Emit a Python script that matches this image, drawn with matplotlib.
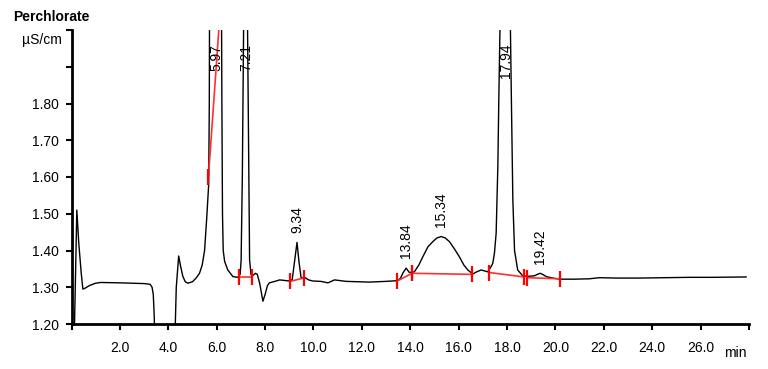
import matplotlib.pyplot as plt

plt.rcParams['font.family'] = ['Liberation Sans', 'DejaVu Sans']

# chromatogram trace (time in min, signal in uS/cm)
time_min = [0.00, 0.11, 0.22, 0.30, 0.40, 0.47, 0.55, 0.75, 1.00, 1.20, 2.00, 3.00,
            3.25, 3.33, 3.38, 3.42, 3.46, 3.50, 4.20, 4.27, 4.33, 4.43, 4.50, 4.60,
            4.70, 4.81, 5.00, 5.15, 5.29, 5.40, 5.50, 5.59, 5.67, 5.695, 5.705, 5.97,
            6.20, 6.215, 6.24, 6.27, 6.33, 6.46, 6.67, 6.87, 6.97, 7.01, 7.06, 7.12,
            7.21, 7.27, 7.33, 7.36, 7.42, 7.52, 7.60, 7.68, 7.78, 7.91, 8.00, 8.10,
            8.18, 8.46, 8.60, 9.00, 9.12, 9.22, 9.32, 9.40, 9.49, 9.63, 9.80, 9.97,
            10.30, 10.60, 10.87, 11.10, 11.35, 12.30, 13.00, 13.49, 13.60, 13.69, 13.83, 13.95,
            14.05, 14.17, 14.35, 14.52, 14.73, 14.93, 15.10, 15.28, 15.45, 15.62, 15.82, 16.03,
            16.22, 16.38, 16.58, 16.75, 16.93, 17.10, 17.20, 17.34, 17.41, 17.48, 17.55, 17.62,
            17.66, 17.72, 17.94, 18.13, 18.18, 18.24, 18.31, 18.44, 18.65, 18.90, 19.13, 19.25,
            19.37, 19.50, 19.62, 19.89, 20.17, 20.80, 21.40, 21.82, 22.50, 23.47, 24.50, 25.54,
            26.50, 27.88]
signal = [0.90, 1.15, 1.51, 1.42, 1.34, 1.295, 1.297, 1.305, 1.311, 1.313, 1.312, 1.310,
          1.308, 1.300, 1.280, 1.220, 1.100, 0.90, 0.90, 1.15, 1.30, 1.385, 1.360, 1.330,
          1.315, 1.311, 1.315, 1.325, 1.338, 1.360, 1.400, 1.490, 1.580, 1.80, 2.05, 2.90,
          2.05, 1.80, 1.50, 1.40, 1.370, 1.347, 1.329, 1.327, 1.335, 1.374, 1.60, 2.05,
          3.00, 2.05, 1.60, 1.374, 1.334, 1.333, 1.338, 1.335, 1.310, 1.262, 1.280, 1.305,
          1.312, 1.317, 1.320, 1.317, 1.320, 1.370, 1.422, 1.370, 1.325, 1.327, 1.320, 1.317,
          1.316, 1.312, 1.320, 1.318, 1.316, 1.314, 1.316, 1.318, 1.325, 1.338, 1.352, 1.341,
          1.340, 1.342, 1.360, 1.383, 1.410, 1.424, 1.434, 1.438, 1.434, 1.424, 1.405, 1.383,
          1.360, 1.347, 1.336, 1.342, 1.347, 1.344, 1.342, 1.356, 1.365, 1.393, 1.447, 1.629,
          1.810, 2.05, 3.00, 2.05, 1.810, 1.538, 1.400, 1.347, 1.331, 1.330, 1.331, 1.335,
          1.338, 1.334, 1.329, 1.325, 1.322, 1.322, 1.323, 1.326, 1.325, 1.325, 1.326, 1.327,
          1.327, 1.328]

# integration baselines: start/end time and signal
base_t0 = [5.66, 6.94, 9.04, 13.46, 14.08, 17.27, 18.83]
base_v0 = [1.600, 1.327, 1.316, 1.317, 1.338, 1.340, 1.326]
base_t1 = [6.12, 7.47, 9.59, 14.08, 16.56, 18.72, 20.17]
base_v1 = [2.030, 1.327, 1.325, 1.338, 1.335, 1.328, 1.323]

# peak labels (retention time) and apex height
peak_rt = [5.97, 7.21, 9.34, 13.84, 15.34, 17.94, 19.42]
peak_x = [5.97, 7.21, 9.32, 13.83, 15.28, 17.94, 19.37]
peak_h = [2.90, 3.00, 1.422, 1.352, 1.438, 3.00, 1.338]

x_ticks = [0, 2, 4, 6, 8, 10, 12, 14, 16, 18, 20, 22, 24, 26, 28]
y_ticks = [1.2, 1.3, 1.4, 1.5, 1.6, 1.7, 1.8, 1.9, 2.0]

fig = plt.figure(figsize=(7.68, 3.69), dpi=100)
ax = fig.add_axes([71.5 / 768, 45 / 369, 677.5 / 768, 294 / 369])

ax.plot(time_min, signal, color='black', lw=1.0)

for t0, v0, t1, v1 in zip(base_t0, base_v0, base_t1, base_v1):
    ax.plot([t0, t1], [v0, v1], color='#ff3030', lw=1.2)
    ax.plot([t0, t1], [v0, v1], ls='none', marker='|', markersize=12,
            markeredgewidth=1.6, color='red')

for rt, px, h in zip(peak_rt, peak_x, peak_h):
    if h > 2.0:
        ax.text(px, 1.962, f'{rt:.2f}', rotation=90, ha='center', va='top', fontsize=10)
    else:
        ax.annotate(f'{rt:.2f}', (px, h), xytext=(0, 7), textcoords='offset points',
                    rotation=90, ha='center', va='bottom', fontsize=10)

ax.set_xlim(0, 28)
ax.set_ylim(1.2, 2.0)
ax.set_xticks(x_ticks)
ax.set_xticklabels([f'{t:.1f}' if 0 < t < 28 else '' for t in x_ticks])
ax.set_yticks(y_ticks)
ax.set_yticklabels([f'{v:.2f}' if v < 1.85 else '' for v in y_ticks])
ax.tick_params(axis='x', length=4.5, width=1.5, pad=7.5, labelsize=10)
ax.tick_params(axis='y', length=4.5, width=1.5, pad=4.5, labelsize=10)

for side in ['top', 'right']:
    ax.spines[side].set_visible(False)
for side in ['left', 'bottom']:
    ax.spines[side].set_linewidth(2)

ax.annotate('min', (1, 0), xycoords='axes fraction', xytext=(-2, -33),
            textcoords='offset pixels', ha='right', va='baseline', fontsize=10)
fig.text(13 / 768, 1 - 17 / 369, 'Perchlorate', fontweight='bold', fontsize=10, va='center')
fig.text(62 / 768, 1 - 40 / 369, 'µS/cm', ha='right', va='center', fontsize=10)

fig.savefig('out.png', dpi=100)
